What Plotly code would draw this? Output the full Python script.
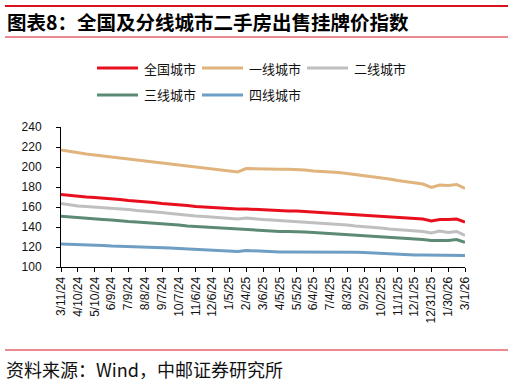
import pandas as pd
import plotly.graph_objects as go

# ---- data ----
start_date = "2024-03-11"
n_points = 49  # one reading every 15 days up to 2026-03-01
dates = pd.date_range(start=start_date, periods=n_points, freq="15D")

national = [172.5, 171.5, 170.5, 170.0, 169.5, 169.0, 168.5, 167.5, 166.5, 166.0,
            165.0, 164.5, 163.5, 163.0, 162.0, 161.5, 160.5, 160.0, 159.5, 158.5,
            158.0, 158.0, 158.0, 157.5, 157.0, 157.0, 156.5, 156.0, 156.0, 155.5,
            155.0, 154.5, 154.0, 153.5, 153.0, 152.5, 152.0, 151.5, 151.0, 150.0,
            149.5, 149.0, 148.5, 148.0, 146.0, 147.5, 147.5, 148.0, 145.0]
tier1 = [217.0, 215.5, 214.0, 213.0, 212.0, 211.0, 210.5, 209.5, 208.5, 207.5,
         206.5, 205.5, 204.5, 203.5, 202.5, 201.5, 200.5, 199.5, 198.5, 197.5,
         196.5, 195.0, 198.5, 198.5, 198.3, 198.0, 197.8, 197.7, 197.5, 197.0,
         196.0, 195.5, 195.5, 194.5, 193.5, 192.5, 191.7, 190.5, 189.5, 188.0,
         186.5, 185.5, 184.5, 183.0, 179.5, 182.0, 181.5, 182.5, 178.5]
tier2 = [163.5, 162.0, 161.0, 160.5, 160.0, 159.5, 158.5, 158.0, 157.5, 156.5,
         156.0, 155.0, 154.5, 153.5, 152.5, 152.0, 151.0, 150.5, 150.0, 149.0,
         148.5, 148.0, 149.0, 148.0, 147.5, 147.0, 146.5, 146.0, 145.5, 145.0,
         144.5, 144.0, 143.5, 142.5, 142.0, 141.0, 140.5, 139.5, 139.0, 138.0,
         137.5, 136.5, 136.0, 135.5, 134.0, 136.0, 134.5, 135.5, 131.5]
tier3 = [150.7, 150.0, 149.0, 148.5, 148.0, 147.5, 147.0, 146.0, 145.5, 145.0,
         144.5, 143.5, 143.0, 142.5, 142.0, 141.0, 140.5, 140.0, 139.5, 139.0,
         138.0, 137.5, 137.5, 136.5, 136.0, 136.0, 135.5, 135.5, 135.5, 135.0,
         134.5, 134.0, 133.5, 133.0, 132.5, 132.0, 131.5, 131.0, 130.5, 130.0,
         129.0, 128.5, 128.0, 127.5, 126.5, 126.5, 126.5, 127.5, 124.7]
tier4 = [123.0, 122.8, 122.5, 122.0, 121.8, 121.5, 121.0, 120.8, 120.5, 120.2,
         120.0, 119.5, 119.2, 119.0, 118.5, 118.0, 117.8, 117.5, 117.0, 116.5,
         116.0, 115.5, 116.5, 116.0, 115.5, 115.2, 115.0, 115.0, 115.0, 115.0,
         115.0, 115.2, 115.3, 115.3, 115.0, 114.8, 114.5, 114.0, 113.5, 113.2,
         112.8, 112.3, 112.0, 112.0, 112.0, 112.0, 111.8, 111.8, 111.4]

series_names = ["全国城市", "一线城市", "二线城市", "三线城市", "四线城市"]
series_values = [national, tier1, tier2, tier3, tier4]
series_colors = ["#E8101E", "#E0B47C", "#BFBFBF", "#5C8A74", "#6F9EC4"]

x_tick_labels = ["3/11/24", "4/10/24", "5/10/24", "6/9/24", "7/9/24", "8/8/24",
                 "9/7/24", "10/7/24", "11/6/24", "12/6/24", "1/5/25", "2/4/25",
                 "3/6/25", "4/5/25", "5/5/25", "6/4/25", "7/4/25", "8/3/25",
                 "9/2/25", "10/2/25", "11/1/25", "12/1/25", "12/31/25", "1/30/26",
                 "3/1/26"]
y_ticks = [100, 120, 140, 160, 180, 200, 220, 240]

title_text = "图表8：全国及分线城市二手房出售挂牌价指数"
source_text = "资料来源：Wind，中邮证券研究所"

# ---- figure ----
W, H = 513, 385
L, R, T, B = 61, 48, 127, 118
pw, ph = W - L - R, H - T - B

def px_x(x):
    return (x - L) / pw

def px_y(y):
    return (H - B - y) / ph

fig = go.Figure()
for name, vals, col in zip(series_names, series_values, series_colors):
    fig.add_trace(go.Scatter(x=dates, y=vals, mode="lines", name=name,
                             line=dict(color=col, width=3), showlegend=False,
                             hoverinfo="skip"))

tickvals = pd.to_datetime(x_tick_labels, format="%m/%d/%y")

shapes = []
annotations = []
# decorative red rules
shapes.append(dict(type="line", xref="paper", yref="paper",
                   x0=px_x(5), x1=px_x(508), y0=px_y(6), y1=px_y(6),
                   line=dict(color="#D7141E", width=2)))
shapes.append(dict(type="line", xref="paper", yref="paper",
                   x0=px_x(5), x1=px_x(508), y0=px_y(37), y1=px_y(37),
                   line=dict(color="#D7141E", width=1)))
shapes.append(dict(type="line", xref="paper", yref="paper",
                   x0=px_x(5), x1=px_x(508), y0=px_y(350), y1=px_y(350),
                   line=dict(color="#D7141E", width=1)))

annotations.append(dict(text="<b>" + title_text + "</b>", xref="paper", yref="paper",
                        x=px_x(5), y=px_y(21), xanchor="left", yanchor="middle",
                        showarrow=False,
                        font=dict(family="Noto Sans CJK SC", size=19.5, color="#000000")))
annotations.append(dict(text=source_text, xref="paper", yref="paper",
                        x=px_x(4), y=px_y(369), xanchor="left", yanchor="middle",
                        showarrow=False,
                        font=dict(family="Noto Sans CJK SC", size=18, color="#111111")))

# legend (manual)
legend_pos = [(97, 68), (202, 68), (307, 68), (97, 95), (202, 95)]
for (lx, ly), name, col in zip(legend_pos, series_names, series_colors):
    shapes.append(dict(type="line", xref="paper", yref="paper",
                       x0=px_x(lx), x1=px_x(lx + 41), y0=px_y(ly), y1=px_y(ly),
                       line=dict(color=col, width=3)))
    annotations.append(dict(text=name, xref="paper", yref="paper",
                            x=px_x(lx + 45), y=px_y(ly), xanchor="left",
                            yanchor="middle", showarrow=False,
                            font=dict(family="Noto Sans CJK SC", size=13,
                                      color="#111111")))

fig.update_layout(
    width=W, height=H,
    margin=dict(l=L, r=R, t=T, b=B, autoexpand=False),
    paper_bgcolor="white", plot_bgcolor="white",
    shapes=shapes, annotations=annotations,
    showlegend=False,
    font=dict(family="Liberation Sans", size=12, color="#111111"),
)
fig.update_xaxes(
    range=[dates[0], dates[-1]], tickvals=tickvals, ticktext=x_tick_labels,
    tickangle=-90, showgrid=False, zeroline=False, automargin=False,
    showline=True, linecolor="#000000", linewidth=1,
    ticks="outside", ticklen=4, tickcolor="#000000",
    tickfont=dict(family="Liberation Sans", size=12, color="#111111"),
)
fig.update_yaxes(
    range=[100, 240], tickvals=y_ticks, showgrid=False, zeroline=False,
    automargin=False,
    showline=True, linecolor="#000000", linewidth=1,
    ticks="outside", ticklen=4, tickcolor="#000000", ticklabelstandoff=12,
    tickfont=dict(family="Liberation Sans", size=12, color="#111111"),
)

fig.write_html("out.html", config={"displayModeBar": False, "staticPlot": True},
               post_script="document.body.style.margin='0px';document.body.style.overflow='hidden';")
